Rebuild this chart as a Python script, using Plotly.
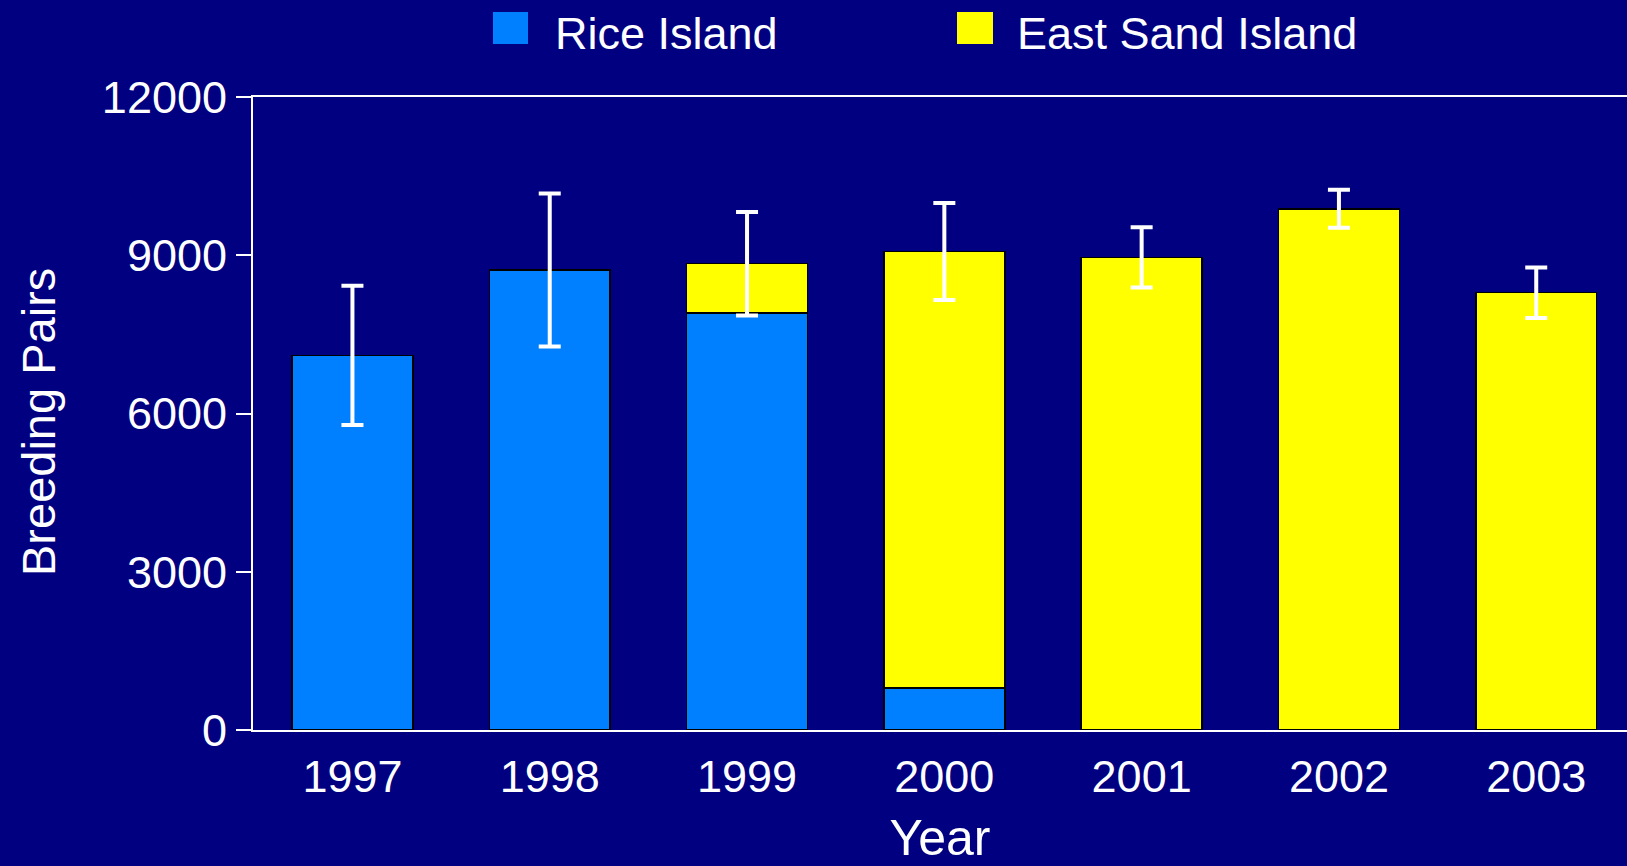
import plotly.graph_objects as go

years = ["1997", "1998", "1999", "2000", "2001", "2002", "2003"]
rice_island = [7100, 8720, 7910, 800, 0, 0, 0]
east_sand_island = [0, 0, 930, 8270, 8960, 9880, 8290]
error_sd = [1320, 1450, 980, 920, 570, 360, 480]

totals = [r + e for r, e in zip(rice_island, east_sand_island)]

BG = "#000080"
BLUE = "#0080FF"
YELLOW = "#FFFF00"
FONT = "Liberation Sans, Arial, sans-serif"

fig = go.Figure()
fig.add_trace(go.Bar(x=years, y=rice_island, name="Rice Island",
                     marker=dict(color=BLUE, line=dict(color="black", width=1.5))))
fig.add_trace(go.Bar(x=years, y=east_sand_island, name="East Sand Island",
                     marker=dict(color=YELLOW, line=dict(color="black", width=1.5))))
fig.add_trace(go.Scatter(x=years, y=totals, mode="markers", showlegend=False,
                         marker=dict(size=1, opacity=0),
                         error_y=dict(type="data", array=error_sd, visible=True,
                                      color="white", thickness=4, width=11),
                         hoverinfo="skip"))

# plot-area geometry in pixels (for legend / title placement)
L, R, T, B = 253, 1627, 97, 730
W, H = R - L, B - T

def px(x):
    return (x - L) / W

def py(y):
    return 1 + (T - y) / H

shapes = [
    dict(type="rect", xref="paper", yref="paper", x0=px(493), x1=px(528), y0=py(44), y1=py(12),
         fillcolor=BLUE, line=dict(width=0)),
    dict(type="rect", xref="paper", yref="paper", x0=px(957), x1=px(993), y0=py(44), y1=py(12),
         fillcolor=YELLOW, line=dict(width=0)),
]
annotations = [
    dict(text="Rice Island", xref="paper", yref="paper", x=px(553), y=py(34),
         xanchor="left", yanchor="middle", showarrow=False,
         font=dict(family=FONT, size=45, color="white")),
    dict(text="East Sand Island", xref="paper", yref="paper", x=px(1015), y=py(34),
         xanchor="left", yanchor="middle", showarrow=False,
         font=dict(family=FONT, size=45, color="white")),
    dict(text="Breeding Pairs", xref="paper", yref="paper", x=px(38), y=py(422),
         xanchor="center", yanchor="middle", textangle=-90, showarrow=False,
         font=dict(family=FONT, size=47, color="white")),
]

fig.update_layout(
    width=1627, height=866,
    barmode="stack", bargap=0.387,
    paper_bgcolor=BG, plot_bgcolor=BG,
    showlegend=False,
    margin=dict(l=L, r=1627 - R, t=T, b=866 - B, autoexpand=False),
    font=dict(family=FONT, size=45, color="white"),
    shapes=shapes, annotations=annotations,
    xaxis=dict(type="category", range=[-0.504, 6.46],
               showline=True, linecolor="white", linewidth=2, mirror=True,
               showgrid=False, zeroline=False, ticks="",
               ticklabelstandoff=6,
               tickfont=dict(family=FONT, size=45, color="white"),
               title=dict(text="Year", standoff=20,
                          font=dict(family=FONT, size=50, color="white"))),
    yaxis=dict(range=[0, 12000], tickvals=[0, 3000, 6000, 9000, 12000],
               tickformat="d",
               showline=True, linecolor="white", linewidth=2,
               showgrid=False, zeroline=False,
               ticks="outside", ticklen=15, tickwidth=2, tickcolor="white",
               tickfont=dict(family=FONT, size=45, color="white")),
)

fig.write_html("out.html", config={"displayModeBar": False},
               post_script="document.body.style.margin='0';document.body.style.overflow='hidden';")
